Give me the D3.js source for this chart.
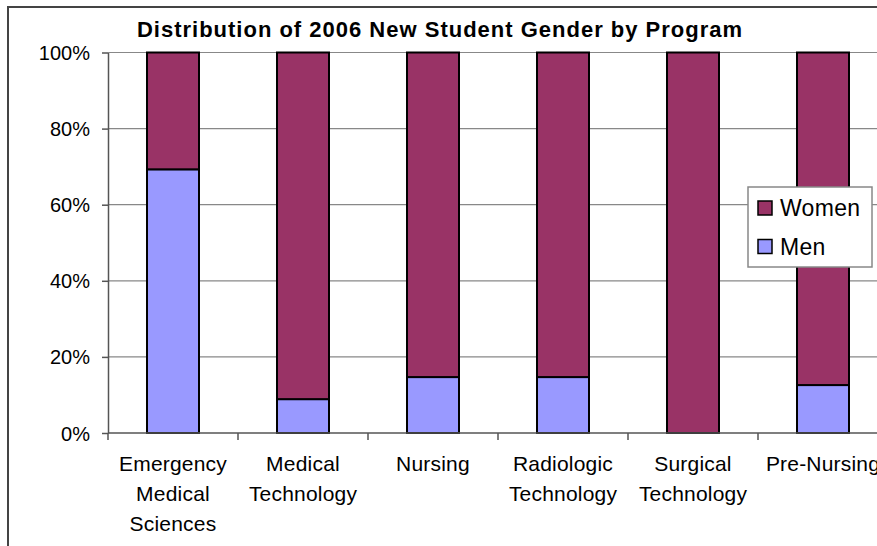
<!DOCTYPE html>
<html><head><meta charset="utf-8">
<script src="https://cdn.jsdelivr.net/npm/d3@7"></script>
<style>body{margin:0;background:#fff;}svg{display:block;font-family:"Liberation Sans",Arial,sans-serif;}</style>
</head><body><svg id="c" width="877" height="546"></svg>
<script>
const categories = ["Emergency Medical Sciences","Medical Technology","Nursing","Radiologic Technology","Surgical Technology","Pre-Nursing"];
const categoryLines = [["Emergency","Medical","Sciences"],["Medical","Technology"],["Nursing"],["Radiologic","Technology"],["Surgical","Technology"],["Pre-Nursing"]];
const menValues = [69.3, 8.9, 14.7, 14.7, 0, 12.6];
const womenValues = [30.7, 91.1, 85.3, 85.3, 100, 87.4];
const yTicks = [0, 20, 40, 60, 80, 100];
const seriesNames = ["Men","Women"];
const colors = {Men:"#9999FF", Women:"#993366"};
const title = "Distribution of 2006 New Student Gender by Program";

const svg = d3.select("#c");
const L = 108, R = 888, T = 52.5, B = 433;

// outer border
svg.append("rect").attr("x",8).attr("y",7).attr("width",900).attr("height",600)
  .attr("fill","none").attr("stroke","#444").attr("stroke-width",2);

const x = d3.scaleBand().domain(categories).range([L,R]).paddingInner(0.6).paddingOuter(0.3);
const xEdge = d3.scaleBand().domain(categories).range([L,R]);
const y = d3.scaleLinear().domain([0,100]).range([B,T]);

// gridlines
svg.append("g").selectAll("line").data(yTicks.filter(d=>d>0)).join("line")
  .attr("x1",L).attr("x2",R).attr("y1",d=>y(d)).attr("y2",d=>y(d))
  .attr("stroke","#888").attr("stroke-width",1.2);

const rows = categories.map((c,i)=>({cat:c, Men:menValues[i], Women:womenValues[i]}));
const stack = d3.stack().keys(seriesNames)(rows);

svg.append("g").selectAll("g").data(stack).join("g")
  .attr("fill",d=>colors[d.key])
  .selectAll("rect").data(d=>d).join("rect")
  .attr("x",d=>x(d.data.cat)).attr("width",x.bandwidth())
  .attr("y",d=>y(d[1])).attr("height",d=>Math.max(0,y(d[0])-y(d[1])))
  .attr("stroke",d=>(d[1]-d[0])>0?"#000":"none").attr("stroke-width",2);

// y axis
const yAxis = d3.axisLeft(y).tickValues(yTicks).tickFormat(d=>d+"%").tickSize(6).tickSizeOuter(0);
const ya = svg.append("g").attr("transform",`translate(${L},0)`).call(yAxis);
ya.select(".domain").attr("stroke","#555").attr("stroke-width",1.5);
ya.selectAll(".tick line").attr("stroke","#555").attr("stroke-width",1.5);
ya.selectAll("text").attr("font-size",20).attr("fill","#000").attr("x",-18).attr("dy","0.35em").attr("font-family","Liberation Sans, Arial, sans-serif");

// x axis line and ticks at band edges
svg.append("line").attr("x1",L).attr("x2",R).attr("y1",B).attr("y2",B).attr("stroke","#555").attr("stroke-width",1.5);
svg.append("g").selectAll("line").data(categories).join("line")
  .attr("x1",d=>xEdge(d)).attr("x2",d=>xEdge(d)).attr("y1",B).attr("y2",B+7)
  .attr("stroke","#555").attr("stroke-width",1.5);

// category labels
svg.append("g").selectAll("text").data(categories).join("text")
  .attr("x",d=>xEdge(d)+xEdge.bandwidth()/2).attr("y",471)
  .attr("text-anchor","middle").attr("font-size",21).attr("letter-spacing",0.2).attr("fill","#000")
  .each(function(d,i){
    d3.select(this).selectAll("tspan").data(categoryLines[i]).join("tspan")
      .attr("x",xEdge(d)+xEdge.bandwidth()/2).attr("dy",(t,j)=>j===0?0:30).text(t=>t);
  });

// title
svg.append("text").attr("x",440).attr("y",37).attr("text-anchor","middle")
  .attr("font-size",22).attr("letter-spacing",1).attr("font-weight","bold").text(title);

// legend
const lg = svg.append("g");
lg.append("rect").attr("x",748).attr("y",187).attr("width",124).attr("height",80)
  .attr("fill","#fff").attr("stroke","#888").attr("stroke-width",1.5);
const legendItems = ["Women","Men"];
legendItems.forEach((k,i)=>{
  lg.append("rect").attr("x",758).attr("y",201+i*38.5).attr("width",14).attr("height",14)
    .attr("fill",colors[k]).attr("stroke","#000").attr("stroke-width",1.5);
  lg.append("text").attr("x",780).attr("y",216+i*38.5).attr("font-size",23).attr("letter-spacing",0.3).text(k);
});
</script></body></html>
